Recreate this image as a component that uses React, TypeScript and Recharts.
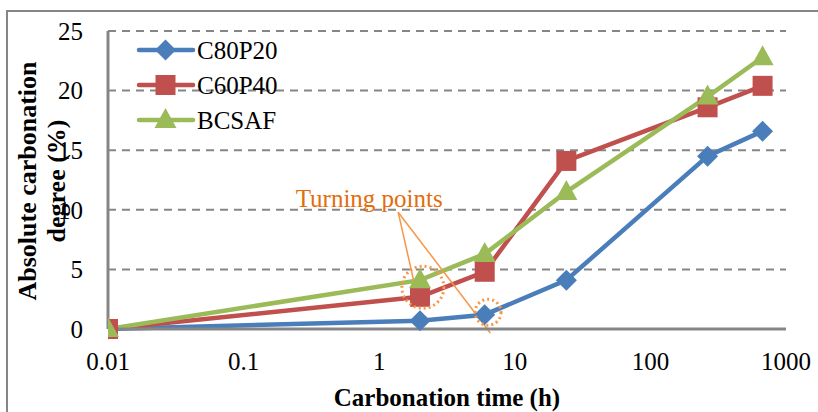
import { LineChart, Line, XAxis, YAxis, CartesianGrid, ReferenceLine, ReferenceDot } from 'recharts'

const times = [0.01, 2, 6, 24, 264, 672]
const c80p20 = [0, 0.7, 1.2, 4.1, 14.5, 16.6]
const c60p40 = [0, 2.7, 4.8, 14.1, 18.6, 20.4]
const bcsaf = [0, 4.1, 6.3, 11.5, 19.5, 22.8]

const xTicks = [0.01, 0.1, 1, 10, 100, 1000]
const yTicks = [0, 5, 10, 15, 20, 25]

// annotation, in data units
const noteText = { x: 0.844, y: 11.0 }
const noteFrom = { x: 1.38, y: 9.8 }
const noteTo = [
  { x: 1.94, y: 2.37 },
  { x: 6.6, y: -0.34 },
]
const noteCircles = [
  { x: 2.1, y: 3.5, r: 21 },
  { x: 6.35, y: 1.4, r: 13 },
]

const BLUE = '#4A7EBB'
const RED = '#C0504D'
const GREEN = '#9BBB59'
const ORANGE = '#F79646'
const GRAY = '#868686'
const FONT = '"Liberation Serif", "Times New Roman", serif'

const data = times.map((t, i) => ({
  t,
  c80p20: c80p20[i],
  c60p40: c60p40[i],
  bcsaf: bcsaf[i],
}))

function Marker({ kind, cx, cy, color }: { kind: string; cx: number; cy: number; color: string }) {
  if (kind === 'diamond') {
    const s = 10.5
    return <path d={`M${cx},${cy - s}L${cx + s},${cy}L${cx},${cy + s}L${cx - s},${cy}Z`} fill={color} />
  }
  if (kind === 'square') {
    return <rect x={cx - 10} y={cy - 10} width={20} height={20} fill={color} />
  }
  return <path d={`M${cx},${cy - 12}L${cx + 11},${cy + 8}L${cx - 11},${cy + 8}Z`} fill={color} />
}

const dotFor = (kind: string, color: string) => (p: any) =>
  <Marker key={`${kind}-${p.index}`} kind={kind} cx={p.cx} cy={p.cy} color={color} />

const legendItems = [
  { name: 'C80P20', kind: 'diamond', color: BLUE },
  { name: 'C60P40', kind: 'square', color: RED },
  { name: 'BCSAF', kind: 'triangle', color: GREEN },
]

function LegendBox() {
  return (
    <svg width={220} height={110} style={{ position: 'absolute', left: 130, top: 30 }}>
      {legendItems.map((it, i) => {
        const y = 20 + i * 35
        return (
          <g key={it.name}>
            <line x1={9} x2={63} y1={y} y2={y} stroke={it.color} strokeWidth={4.5} strokeLinecap="round" />
            <Marker kind={it.kind} cx={35.5} cy={y} color={it.color} />
            <text x={67} y={y} dominantBaseline="central" fontSize={25} style={{ fontFamily: FONT }} fill="#000">
              {it.name}
            </text>
          </g>
        )
      })}
    </svg>
  )
}

function YTitle() {
  return (
    <g style={{ fontFamily: FONT }} fontWeight="bold" fontSize={26} fill="#000" textAnchor="middle">
      <text transform="translate(36,181) rotate(-90)">Absolute carbonation</text>
      <text transform="translate(65,181) rotate(-90)">degree (%)</text>
    </g>
  )
}

export default function App() {
  const tickStyle = { fontSize: 25, fill: '#000', fontFamily: FONT, style: { fontFamily: FONT } }
  return (
    <div style={{ position: 'absolute', left: 0, top: 0, width: 818, height: 412, overflow: 'hidden', background: '#fff' }}>
      <div style={{ position: 'absolute', left: 6, top: 10, width: 900, height: 500, border: `2px solid ${GRAY}`, boxSizing: 'border-box' }} />
      <div style={{ position: 'absolute', left: 0, top: 0 }}>
        <LineChart width={818} height={412} data={data} margin={{ top: 31, right: 32, bottom: 0, left: 0 }}>
          <CartesianGrid vertical={false} stroke={GRAY} strokeWidth={2} strokeDasharray="8 6" />
          <XAxis
            dataKey="t"
            type="number"
            scale="log"
            domain={[0.01, 1000]}
            ticks={xTicks}
            allowDataOverflow
            height={83}
            axisLine={{ stroke: GRAY, strokeWidth: 3 }}
            tickLine={false}
            tickSize={0}
            tickMargin={23}
            tick={tickStyle}
            label={{
              value: 'Carbonation time (h)',
              position: 'insideBottom',
              offset: 6,
              style: { fontSize: 25, fontWeight: 'bold', fill: '#000', fontFamily: FONT },
            }}
          />
          <YAxis
            type="number"
            domain={[0, 25]}
            ticks={yTicks}
            width={108}
            axisLine={{ stroke: GRAY, strokeWidth: 3 }}
            tickLine={false}
            tickSize={0}
            tickMargin={25}
            tick={tickStyle}
            label={{ content: () => <YTitle /> }}
          />
          <Line dataKey="c80p20" stroke={BLUE} strokeWidth={4.5} dot={dotFor('diamond', BLUE)} isAnimationActive={false} />
          <Line dataKey="c60p40" stroke={RED} strokeWidth={4.5} dot={dotFor('square', RED)} isAnimationActive={false} />
          <Line dataKey="bcsaf" stroke={GREEN} strokeWidth={4.5} dot={dotFor('triangle', GREEN)} isAnimationActive={false} />
          {noteTo.map((p, i) => (
            <ReferenceLine key={i} segment={[noteFrom, p]} stroke={ORANGE} strokeWidth={1.5} ifOverflow="visible" />
          ))}
          {noteCircles.map((c, i) => (
            <ReferenceDot
              key={i}
              x={c.x}
              y={c.y}
              r={c.r}
              fill="none"
              stroke={ORANGE}
              strokeWidth={3}
              strokeDasharray="2 3"
              ifOverflow="visible"
            />
          ))}
          <ReferenceDot
            x={noteText.x}
            y={noteText.y}
            r={0}
            fill="none"
            stroke="none"
            ifOverflow="visible"
            label={{ value: 'Turning points', position: 'center', fill: '#E46C0A', fontSize: 25, style: { fontFamily: FONT } }}
          />
        </LineChart>
      </div>
      <LegendBox />
    </div>
  )
}
